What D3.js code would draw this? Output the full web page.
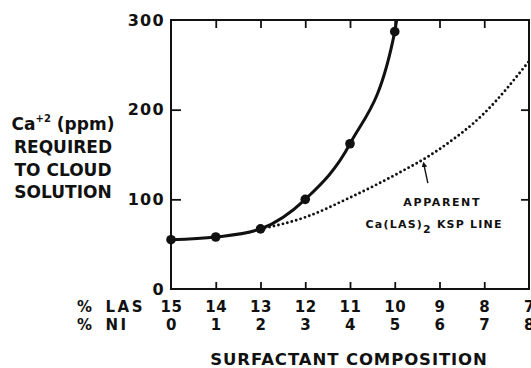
<!DOCTYPE html>
<html>
<head>
<meta charset="utf-8">
<script src="https://cdn.jsdelivr.net/npm/d3@7"></script>
<style>
  html, body { margin: 0; padding: 0; background: #fff; }
  svg { display: block; font-family: "DejaVu Sans", sans-serif; font-weight: bold; }
</style>
</head>
<body>
<svg id="chart" width="531" height="368"></svg>
<script>
// ---- data ----
const niPercent = [0, 1, 2, 3, 4, 5, 6, 7, 8];
const lasPercent = [15, 14, 13, 12, 11, 10, 9, 8, 7];
const yTicks = [0, 100, 200, 300];
const measuredNI = [0, 1, 2, 3, 4, 5];
const measuredCa = [55, 58, 67, 100, 162, 287];
const curveTailNI = [5.06];          // continuation of the solid curve beyond the frame
const curveTailCa = [306];
const kspNI = [2, 3, 4, 5, 6, 7, 8];
const kspCa = [67, 80, 102, 127, 156, 196, 254];
const yLabelLines = ["REQUIRED", "TO CLOUD", "SOLUTION"];
const rowCaptions = ["% LAS", "% NI"];

// ---- layout ----
const svg = d3.select("#chart");
const x = d3.scaleLinear().domain([0, 8]).range([171, 529]);
const y = d3.scaleLinear().domain([0, 300]).range([289, 20]);
const ink = "#111";

svg.append("defs").append("clipPath").attr("id", "plotclip")
  .append("rect").attr("x", x(0)).attr("y", y(300)).attr("width", x(8) - x(0)).attr("height", y(0) - y(300));

// frame
svg.append("rect")
  .attr("x", x(0)).attr("y", y(300)).attr("width", x(8) - x(0)).attr("height", y(0) - y(300))
  .attr("fill", "none").attr("stroke", ink).attr("stroke-width", 2);

// inward tick marks
function styleAxis(g) {
  g.select(".domain").remove();
  g.selectAll(".tick line").attr("stroke", ink).attr("stroke-width", 1.8);
}
svg.append("g").attr("transform", `translate(0,${y(300)})`)
  .call(d3.axisTop(x).tickValues(niPercent.slice(1, -1)).tickSize(-8).tickFormat(""))
  .call(styleAxis);
svg.append("g").attr("transform", `translate(0,${y(0)})`)
  .call(d3.axisBottom(x).tickValues(niPercent.slice(1, -1)).tickSize(-7).tickFormat(""))
  .call(styleAxis);
svg.append("g").attr("transform", `translate(${x(8)},0)`)
  .call(d3.axisRight(y).tickValues(yTicks.slice(1, -1)).tickSize(-8).tickFormat(""))
  .call(styleAxis);

// left axis with labels
const gl = svg.append("g").attr("transform", `translate(${x(0)},0)`)
  .call(d3.axisLeft(y).tickValues(yTicks).tickSize(-10).tickPadding(6).tickFormat(d3.format("d")))
  .call(styleAxis);
gl.selectAll(".tick text").attr("font-family", "DejaVu Sans").attr("font-weight", "bold")
  .attr("font-size", 16).attr("letter-spacing", "1.3px").attr("fill", ink);
gl.selectAll(".tick").filter(d => d === 0 || d === 300).select("line").remove();

// bottom label rows
function labelRow(values, formatArr, padding) {
  const g = svg.append("g").attr("transform", `translate(0,${y(0)})`)
    .call(d3.axisBottom(x).tickValues(values).tickSize(0).tickPadding(padding)
      .tickFormat((d, i) => formatArr[i]));
  g.select(".domain").remove();
  g.selectAll(".tick text").attr("font-family", "DejaVu Sans").attr("font-weight", "bold")
    .attr("font-size", 15).attr("letter-spacing", "0.6px").attr("fill", ink);
}
labelRow(niPercent, lasPercent, 12.5);
labelRow(niPercent, niPercent, 30.5);

// row captions
rowCaptions.forEach((s, i) => {
  svg.append("text").attr("x", 77).attr("y", 312 + i * 18).attr("font-size", 15).attr("fill", ink)
    .attr("letter-spacing", "2.6px").attr("word-spacing", "3px").text(s);
});

// x title
svg.append("text").attr("x", 349).attr("y", 365).attr("text-anchor", "middle")
  .attr("font-size", 16.5).attr("letter-spacing", "0.9px").attr("fill", ink)
  .text("SURFACTANT COMPOSITION");

// y title
const yl = svg.append("g").attr("fill", ink).attr("font-size", 17).attr("text-anchor", "middle");
const t0 = yl.append("text").attr("x", 63).attr("y", 130);
t0.append("tspan").text("Ca");
t0.append("tspan").attr("font-size", 10).attr("dy", -8).text("+2");
t0.append("tspan").attr("dy", 8).text(" (ppm)");
yLabelLines.forEach((s, i) => {
  yl.append("text").attr("x", 63).attr("y", 153 + i * 22.7).text(s);
});

// KSP dotted line
const plot = svg.append("g").attr("clip-path", "url(#plotclip)");
const kspData = kspNI.map((n, i) => ({ n, v: kspCa[i] }));
plot.append("path").datum(kspData)
  .attr("d", d3.line().x(d => x(d.n)).y(d => y(d.v)).curve(d3.curveMonotoneX))
  .attr("fill", "none").attr("stroke", ink).attr("stroke-width", 2.9)
  .attr("stroke-linecap", "round").attr("stroke-dasharray", "0 4.6");

// measured solid curve
const measured = measuredNI.map((n, i) => ({ n, v: measuredCa[i] }));
const curveData = measured.concat(curveTailNI.map((n, i) => ({ n, v: curveTailCa[i] })));
plot.append("path").datum(curveData)
  .attr("d", d3.line().x(d => x(d.n)).y(d => y(d.v)).curve(d3.curveMonotoneX))
  .attr("fill", "none").attr("stroke", ink).attr("stroke-width", 3);
svg.append("g").selectAll("circle").data(measured).join("circle")
  .attr("cx", d => x(d.n)).attr("cy", d => y(d.v)).attr("r", 4.8).attr("fill", ink);

// annotation
const arrowFrom = { n: 5.74, v: 118 };
const arrowTo = { n: 5.65, v: 139 };
svg.append("defs").append("marker").attr("id", "ah")
  .attr("viewBox", "0 0 10 10").attr("refX", 5).attr("refY", 5)
  .attr("markerWidth", 4).attr("markerHeight", 4).attr("orient", "auto")
  .append("path").attr("d", "M0,0 L10,5 L0,10 Z").attr("fill", ink);
svg.append("line")
  .attr("x1", x(arrowFrom.n)).attr("y1", y(arrowFrom.v))
  .attr("x2", x(arrowTo.n)).attr("y2", y(arrowTo.v))
  .attr("stroke", ink).attr("stroke-width", 1.4).attr("marker-end", "url(#ah)");

svg.append("text").attr("x", x(6.06)).attr("y", y(93)).attr("text-anchor", "middle")
  .attr("font-size", 11).attr("letter-spacing", "1.6px").attr("fill", ink).text("APPARENT");
const t2 = svg.append("text").attr("x", x(5.88)).attr("y", y(68)).attr("text-anchor", "middle")
  .attr("font-size", 11).attr("letter-spacing", "1.2px").attr("fill", ink);
t2.append("tspan").text("Ca(LAS)");
t2.append("tspan").attr("dy", 5).text("2");
t2.append("tspan").attr("dy", -5).text(" KSP LINE");
</script>
</body>
</html>
